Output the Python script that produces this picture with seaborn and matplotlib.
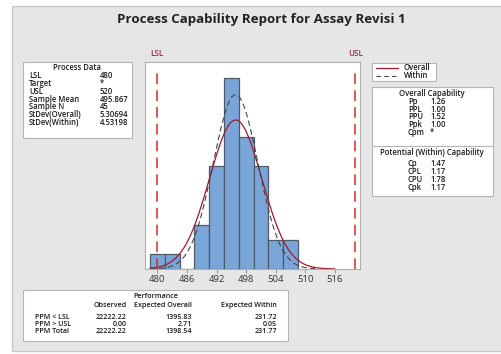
import numpy as np
import pandas as pd
import matplotlib
matplotlib.use("Agg")
import matplotlib.pyplot as plt
from matplotlib.patches import Rectangle
from matplotlib.lines import Line2D
import seaborn as sns

# ---- data ----
bin_mid = [480, 483, 486, 489, 492, 495, 498, 501, 504, 507]
bin_count = [1, 1, 0, 3, 7, 13, 9, 7, 2, 2]
bin_width = 3
lsl, usl = 480, 520
sample_mean = 495.867
sample_n = 45
sd_overall = 5.30694
sd_within = 4.53198
x_ticks = [480, 486, 492, 498, 504, 510, 516]

process_labels = ["LSL", "Target", "USL", "Sample Mean", "Sample N",
                  "StDev(Overall)", "StDev(Within)"]
process_values = ["480", "*", "520", "495.867", "45", "5.30694", "4.53198"]

overall_labels = ["Pp", "PPL", "PPU", "Ppk", "Cpm"]
overall_values = ["1.26", "1.00", "1.52", "1.00", "*"]
within_labels = ["Cp", "CPL", "CPU", "Cpk"]
within_values = ["1.47", "1.17", "1.78", "1.17"]

perf_rows = ["PPM < LSL", "PPM > USL", "PPM Total"]
perf_observed = ["22222.22", "0.00", "22222.22"]
perf_exp_overall = ["1395.83", "2.71", "1398.54"]
perf_exp_within = ["231.72", "0.05", "231.77"]

# ---- figure ----
sns.set_theme(style="white")
plt.rcParams["font.family"] = ["Open Sans", "DejaVu Sans"]

W, H = 502, 354
fig = plt.figure(figsize=(W / 100, H / 100), dpi=100)
fig.patch.set_facecolor("white")


def fx(x):
    return x / W


def fy(y):
    return 1 - y / H


def box(x0, y0, x1, y1, face="white", edge="#b4b4b4", lw=0.8, z=0):
    fig.patches.append(Rectangle((fx(x0), fy(y1)), fx(x1) - fx(x0), fy(y0) - fy(y1),
                                 transform=fig.transFigure, facecolor=face,
                                 edgecolor=edge, linewidth=lw, zorder=z))


def txt(x, y, s, ha="left", size=5.5, weight="semibold", color="#1a1a1a"):
    fig.text(fx(x), fy(y), s, ha=ha, va="center", fontsize=size,
             fontweight=weight, color=color)


# background panel
box(12, 6, 503, 351, face="#e6e6e6", edge="#c8c8c8", lw=1.0, z=-5)

txt(261, 20, "Process Capability Report for Assay Revisi 1", ha="center",
    size=9.6, weight="bold", color="#222222")

# ---- histogram axes ----
ax = fig.add_axes([fx(145), fy(269), fx(360) - fx(145), fy(62) - fy(269)])
ax.set_facecolor("white")
edges = [m - bin_width / 2 for m in bin_mid] + [bin_mid[-1] + bin_width / 2]
hist_df = pd.DataFrame({"value": bin_mid, "count": bin_count})
sns.histplot(data=hist_df, x="value", weights="count", bins=edges, ax=ax,
             color="#7aa5d8", edgecolor="#505b68", linewidth=0.9, alpha=1.0)

scale = sample_n * bin_width
xs = np.linspace(478.5, 516, 300)
pdf_overall = scale * np.exp(-0.5 * ((xs - sample_mean) / sd_overall) ** 2) / (sd_overall * np.sqrt(2 * np.pi))
xs_w = np.linspace(478.5, 512, 300)
pdf_within = scale * np.exp(-0.5 * ((xs_w - sample_mean) / sd_within) ** 2) / (sd_within * np.sqrt(2 * np.pi))
sns.lineplot(x=xs, y=pdf_overall, ax=ax, color="#a3192b", linewidth=0.9)
sns.lineplot(x=xs_w, y=pdf_within, ax=ax, color="#444444", linewidth=0.8,
             linestyle=(0, (5, 3)))

for lim in (lsl, usl):
    ax.axvline(lim, color="#d62a2a", linewidth=1.1, linestyle=(0, (7, 4)), ymax=0.97)

ax.set_xlim(477.5, 521.07)
ax.set_ylim(0, 14.1)
ax.set_xticks(x_ticks)
ax.set_xticklabels([str(t) for t in x_ticks], fontsize=6.8, color="#333333")
ax.set_yticks([])
ax.set_xlabel("")
ax.set_ylabel("")
ax.tick_params(axis="x", length=3, width=0.6, color="#888888", pad=1.5, bottom=True)
for sp in ax.spines.values():
    sp.set_color("#b0b0b0")
    sp.set_linewidth(0.8)

txt(157, 54, "LSL", ha="center", size=5.8, color="#9c2a3a")
txt(356, 54, "USL", ha="center", size=5.8, color="#9c2a3a")

# ---- process data box ----
box(23, 62, 132, 138)
txt(77, 68, "Process Data", ha="center")
for i, (lab, val) in enumerate(zip(process_labels, process_values)):
    y = 75.7 + i * 7.8
    txt(29, y, lab)
    txt(100, y, val)

# ---- legend box ----
box(372, 63, 436, 81)
fig.lines.append(Line2D([fx(376), fx(398)], [fy(68), fy(68)], transform=fig.transFigure,
                        color="#a3192b", linewidth=0.9))
fig.lines.append(Line2D([fx(376), fx(398)], [fy(76), fy(76)], transform=fig.transFigure,
                        color="#444444", linewidth=0.8, linestyle=(0, (4, 3))))
txt(404, 68, "Overall")
txt(404, 76, "Within")

# ---- capability box ----
box(372, 87, 493, 196)
fig.lines.append(Line2D([fx(372), fx(493)], [fy(146), fy(146)], transform=fig.transFigure,
                        color="#b4b4b4", linewidth=0.8))
txt(432, 94, "Overall Capability", ha="center")
for i, (lab, val) in enumerate(zip(overall_labels, overall_values)):
    y = 101.5 + i * 7.7
    txt(408, y, lab)
    txt(430, y, val)
txt(432, 153, "Potential (Within) Capability", ha="center")
for i, (lab, val) in enumerate(zip(within_labels, within_values)):
    y = 164 + i * 7.7
    txt(408, y, lab)
    txt(430, y, val)

# ---- performance box ----
box(23, 290, 288, 341)
perf_size = 5.1
txt(156, 297, "Performance", ha="center", size=perf_size)
txt(127, 305.5, "Observed", ha="right", size=perf_size)
txt(192, 305.5, "Expected Overall", ha="right", size=perf_size)
txt(277, 305.5, "Expected Within", ha="right", size=perf_size)
for i, row in enumerate(perf_rows):
    y = 317.3 + i * 7.3
    txt(35, y, row, size=perf_size)
    txt(127, y, perf_observed[i], ha="right", size=perf_size)
    txt(192, y, perf_exp_overall[i], ha="right", size=perf_size)
    txt(277, y, perf_exp_within[i], ha="right", size=perf_size)

fig.savefig("out.png", dpi=100, facecolor=fig.get_facecolor())
